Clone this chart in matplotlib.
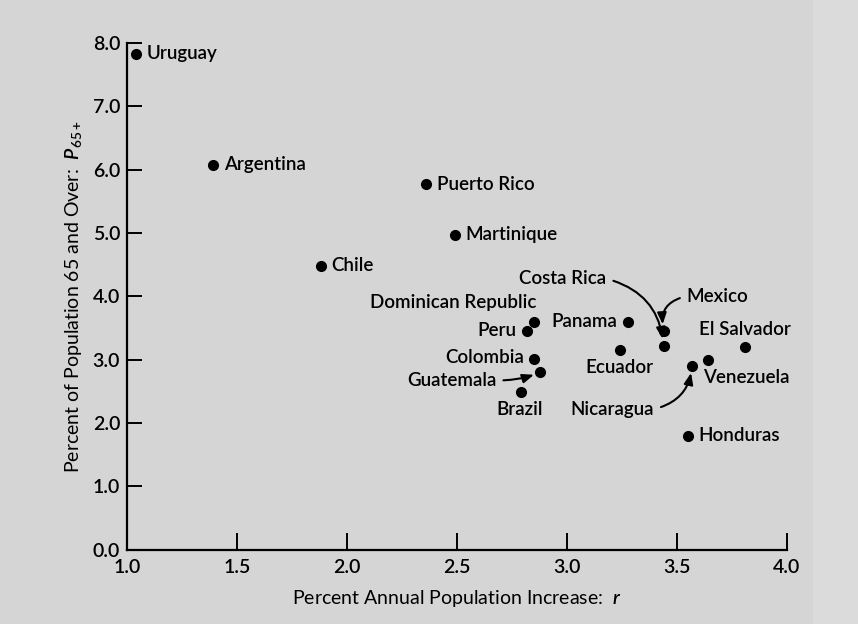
import numpy as np
import matplotlib.pyplot as plt
from matplotlib.patches import Rectangle

plt.rcParams['font.family'] = ['Lato', 'DejaVu Sans']
plt.rcParams['font.weight'] = 'semibold'
plt.rcParams['mathtext.fontset'] = 'custom'
plt.rcParams['mathtext.rm'] = 'Lato:semibold'
plt.rcParams['mathtext.it'] = 'Lato:italic:semibold'

# data
countries = ["Uruguay", "Argentina", "Chile", "Puerto Rico", "Martinique",
             "Dominican Republic", "Peru", "Colombia", "Guatemala", "Brazil",
             "Panama", "Ecuador", "Mexico", "Costa Rica", "El Salvador",
             "Venezuela", "Nicaragua", "Honduras"]
growth = [1.04, 1.39, 1.88, 2.36, 2.49,
          2.85, 2.82, 2.85, 2.88, 2.79,
          3.28, 3.24, 3.44, 3.44, 3.81,
          3.64, 3.57, 3.55]
pct65 = [7.83, 6.08, 4.48, 5.77, 4.97,
         3.60, 3.45, 3.01, 2.80, 2.49,
         3.59, 3.15, 3.45, 3.22, 3.20,
         3.00, 2.90, 1.80]

x_ticks = [1.0, 1.5, 2.0, 2.5, 3.0, 3.5, 4.0]
y_ticks = [0.0, 1.0, 2.0, 3.0, 4.0, 5.0, 6.0, 7.0, 8.0]

# label placement: offset in pixels from the dot, alignment
right = (11, 0, 'left')
label_pos = {
    "Uruguay": right, "Argentina": right, "Chile": right,
    "Puerto Rico": right, "Martinique": right, "Honduras": right,
    "Dominican Republic": (3, 19, 'right'),
    "Peru": (-11, 1, 'right'),
    "Colombia": (-10, 2, 'right'),
    "Brazil": (-1, -17, 'center'),
    "Panama": (-11, 1, 'right'),
    "Ecuador": (0, -17, 'center'),
    "El Salvador": (0, 18, 'center'),
    "Venezuela": (-5, -18, 'left'),
}
# labels joined to their dot by an arrow: offset, alignment, curvature
arrow_pos = {
    "Guatemala": (-44, -8, 'right', 0.1),
    "Costa Rica": (-57, 67, 'right', -0.35),
    "Mexico": (23, 35, 'left', 0.5),
    "Nicaragua": (-38, -43, 'right', 0.35),
}

fs = 13.5
bg = '#d5d5d5'
fig = plt.figure(figsize=(8.58, 6.24), dpi=100, facecolor=bg)
# slightly lighter strip along the right edge of the scan
fig.patches.append(Rectangle((0.948, 0), 0.052, 1, transform=fig.transFigure,
                             facecolor='#dbdbdb', edgecolor='none', zorder=0))
ax = fig.add_axes([0.148, 0.119, 0.769, 0.812])
ax.set_facecolor(bg)

ax.plot(growth, pct65, 'o', color='black', markersize=7, zorder=3)

for name, gx, py in zip(countries, growth, pct65):
    if name in label_pos:
        dx, dy, ha = label_pos[name]
        ax.annotate(name, (gx, py), xytext=(dx, dy), textcoords='offset pixels',
                    ha=ha, va='center', fontsize=fs, color='black')
    else:
        dx, dy, ha, rad = arrow_pos[name]
        rel = (1, 0.5) if ha == 'right' else (0, 0.5)
        ax.annotate(name, (gx, py), xytext=(dx, dy), textcoords='offset pixels',
                    ha=ha, va='center', fontsize=fs, color='black',
                    arrowprops=dict(arrowstyle='-|>,head_length=0.5,head_width=0.2',
                                    color='black', lw=1.5, relpos=rel,
                                    shrinkA=3, shrinkB=5,
                                    connectionstyle='arc3,rad=%s' % rad))

ax.set_xlim(1.0, 4.0)
ax.set_ylim(0.0, 8.0)
ax.set_xticks(x_ticks)
ax.set_yticks(y_ticks)
ax.set_xticklabels(['%.1f' % v for v in x_ticks])
ax.set_yticklabels(['%.1f' % v for v in y_ticks])

for s in ['top', 'right']:
    ax.spines[s].set_visible(False)
for s in ['left', 'bottom']:
    ax.spines[s].set_linewidth(1.6)
ax.tick_params(axis='both', direction='in', width=1.4, labelsize=14, colors='black')
ax.tick_params(axis='y', length=11, pad=5)
ax.tick_params(axis='x', length=12, pad=7)

ax.set_xlabel('Percent Annual Population Increase:  $r$', fontsize=14, labelpad=8)
ax.set_ylabel('Percent of Population 65 and Over:  $P_{65+}$', fontsize=14, labelpad=6)

fig.savefig('out.png', dpi=100, facecolor=bg)
